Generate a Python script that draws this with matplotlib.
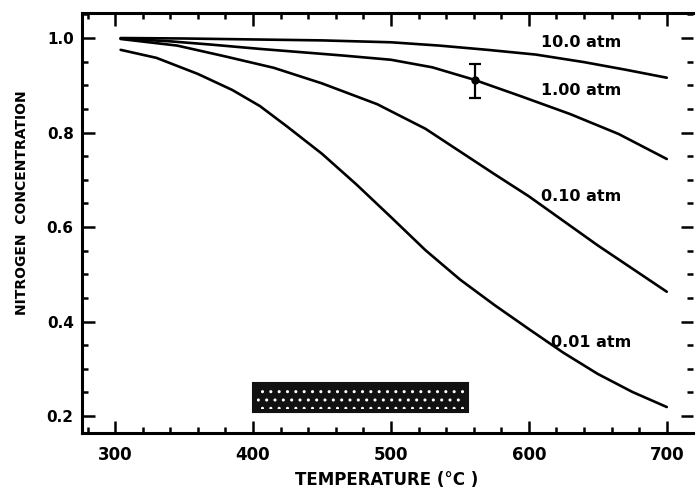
import matplotlib
matplotlib.use("Agg")
import matplotlib.pyplot as plt
from matplotlib.ticker import MultipleLocator
from matplotlib.patches import Rectangle

temps_10atm = [304, 350, 400, 450, 500, 535, 570, 605, 640, 670, 700]
conc_10atm = [1.000, 0.999, 0.997, 0.995, 0.991, 0.984, 0.975, 0.965, 0.949, 0.933, 0.916]

temps_1atm = [304, 340, 370, 405, 435, 465, 500, 530, 560, 595, 630, 665, 700]
conc_1atm = [0.999, 0.993, 0.986, 0.977, 0.970, 0.963, 0.954, 0.938, 0.912, 0.876, 0.839, 0.797, 0.744]

temps_01atm = [304, 345, 380, 415, 450, 490, 525, 550, 575, 600, 625, 650, 675, 700]
conc_01atm = [0.998, 0.984, 0.961, 0.937, 0.904, 0.860, 0.808, 0.760, 0.712, 0.665, 0.613, 0.561, 0.512, 0.463]

temps_001atm = [304, 330, 360, 385, 405, 425, 450, 475, 500, 525, 550, 575, 600, 625, 650, 675, 700]
conc_001atm = [0.975, 0.958, 0.924, 0.890, 0.856, 0.812, 0.755, 0.690, 0.621, 0.551, 0.489, 0.435, 0.384, 0.334, 0.289, 0.251, 0.219]

labels = ["10.0 atm", "1.00 atm", "0.10 atm", "0.01 atm"]
label_pos = [(609, 0.991), (609, 0.890), (609, 0.664), (616, 0.355)]

point_t = [561]
point_v = [0.911]
point_err_lo = [0.037]
point_err_hi = [0.033]

band_t = (400, 556)
band_v = (0.208, 0.270)

fig = plt.figure(figsize=(6.98, 4.92), dpi=100)
ax = fig.add_axes([0.1175, 0.1199, 0.8753, 0.8537])

for ts, ys in ((temps_10atm, conc_10atm), (temps_1atm, conc_1atm),
               (temps_01atm, conc_01atm), (temps_001atm, conc_001atm)):
    ax.plot(ts, ys, color="black", lw=1.9, solid_capstyle="round", solid_joinstyle="round")

for lab, (tx, ty) in zip(labels, label_pos):
    ax.text(tx, ty, lab, fontsize=11.5, fontweight="bold", ha="left", va="center",
            family="DejaVu Sans")

ax.errorbar(point_t, point_v, yerr=[point_err_lo, point_err_hi], fmt="o", color="black",
            ms=5, capsize=4, elinewidth=1.6, capthick=1.6)

ax.add_patch(Rectangle((band_t[0], band_v[0]), band_t[1] - band_t[0], band_v[1] - band_v[0],
                       facecolor="#111111", edgecolor="#111111", lw=1.5, zorder=3))
ax.add_patch(Rectangle((band_t[0] + 3, band_v[0] + 0.006), band_t[1] - band_t[0] - 6,
                       band_v[1] - band_v[0] - 0.012,
                       facecolor="none", edgecolor="white", hatch="..", lw=0, zorder=4))

ax.set_xlim(276, 719)
ax.set_ylim(0.164, 1.053)
ax.xaxis.set_minor_locator(MultipleLocator(20))
ax.yaxis.set_minor_locator(MultipleLocator(0.05))
ax.set_yticks([0.2, 0.4, 0.6, 0.8, 1.0])
ax.set_yticklabels(["0.2", "0.4", "0.6", "0.8", "1.0"])
ax.set_xticks([300, 400, 500, 600, 700])

ax.tick_params(which="both", direction="in", top=True, right=True, width=1.8)
ax.tick_params(which="major", length=9)
ax.tick_params(which="minor", length=4)
ax.tick_params(axis="x", which="major", pad=9)
ax.tick_params(axis="y", which="major", pad=6)
for lbl in ax.get_xticklabels():
    lbl.set_fontweight("bold")
    lbl.set_fontsize(12)
for lbl in ax.get_yticklabels():
    lbl.set_fontweight("bold")
    lbl.set_fontsize(11)

for side in ("left", "bottom", "top"):
    ax.spines[side].set_linewidth(2.2)
ax.spines["right"].set_visible(False)

ax.set_xlabel("TEMPERATURE (°C )", fontsize=12, fontweight="bold")
ax.xaxis.set_label_coords(0.498, -0.113)
ax.xaxis.label.set_va("center")
ax.set_ylabel("NITROGEN  CONCENTRATION", fontsize=10, fontweight="bold")
ax.yaxis.set_label_coords(-0.087, 0.548)

fig.savefig("out.png", dpi=100)
